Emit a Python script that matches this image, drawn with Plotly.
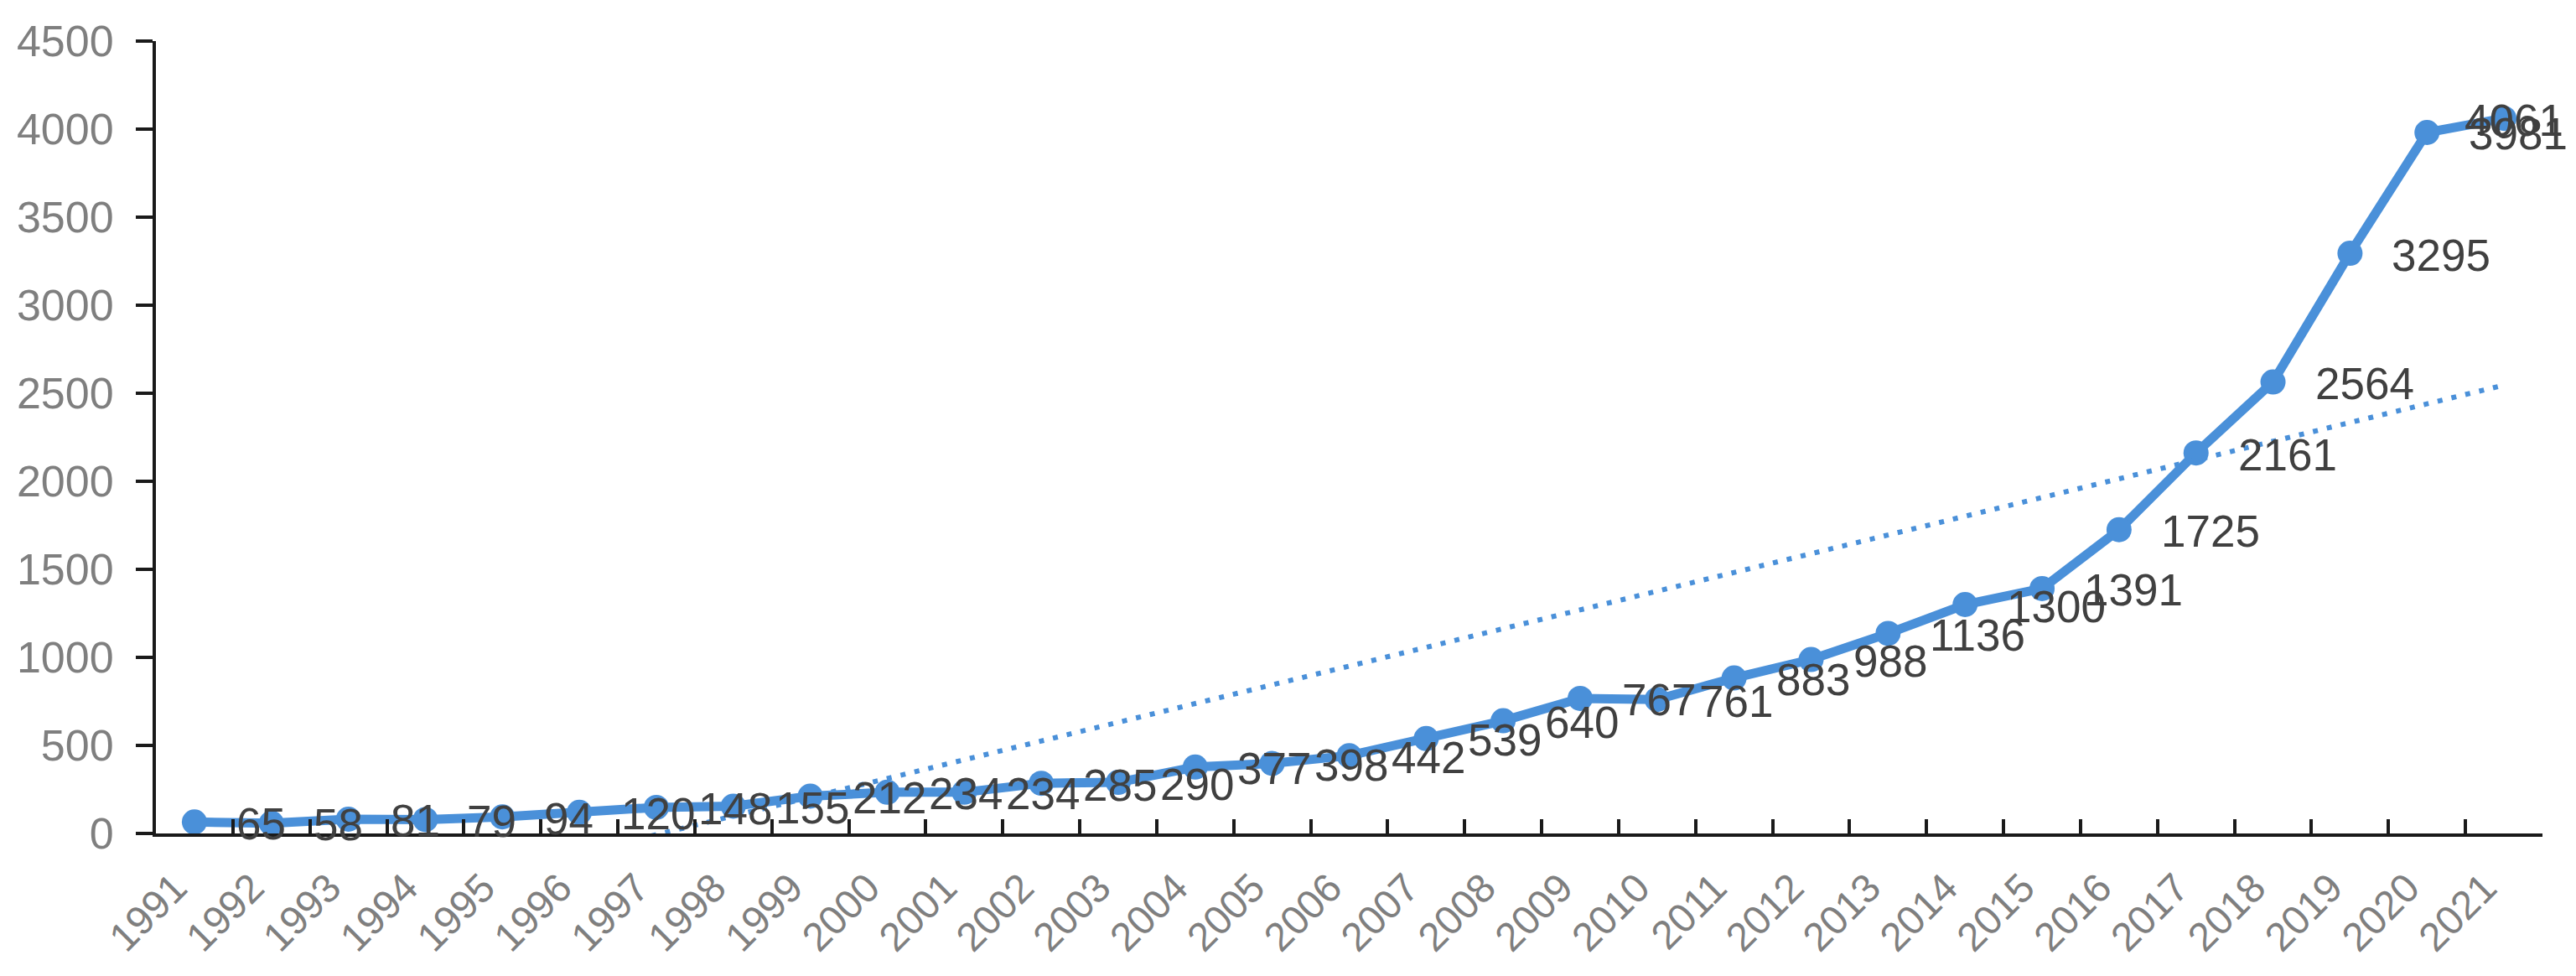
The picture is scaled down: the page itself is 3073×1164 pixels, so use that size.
import numpy as np
import plotly.graph_objects as go

years = ["1991", "1992", "1993", "1994", "1995", "1996", "1997", "1998", "1999", "2000",
         "2001", "2002", "2003", "2004", "2005", "2006", "2007", "2008", "2009", "2010",
         "2011", "2012", "2013", "2014", "2015", "2016", "2017", "2018", "2019", "2020", "2021"]
values = [65, 58, 81, 79, 94, 120, 148, 155, 212, 234,
          234, 285, 290, 377, 398, 442, 539, 640, 767, 761,
          883, 988, 1136, 1300, 1391, 1725, 2161, 2564, 3295, 3981, 4061]
y_ticks = [0, 500, 1000, 1500, 2000, 2500, 3000, 3500, 4000, 4500]

BLUE = "#4A90D9"
FONT = "Liberation Sans, Arial, Helvetica, sans-serif"

n = len(values)
idx = np.arange(n)
# linear trendline (as in spreadsheet tools)
slope, intercept = np.polyfit(idx, np.array(values, dtype=float), 1)
trend = (slope * idx + intercept).tolist()

fig = go.Figure()
# trendline drawn on the numeric overlay axis (same range as the category axis)
fig.add_trace(go.Scatter(
    x=idx.tolist(), y=trend, mode="lines", xaxis="x2", yaxis="y",
    line=dict(color=BLUE, width=6, dash="6px,11px"),
    hoverinfo="skip", showlegend=False,
))
fig.add_trace(go.Scatter(
    x=years, y=values, mode="lines+markers",
    line=dict(color=BLUE, width=11),
    marker=dict(color=BLUE, size=30),
    showlegend=False,
))

annotations = []
for i, v in enumerate(values):
    last = i == n - 1
    annotations.append(dict(
        x=i, y=v, xref="x", yref="y", text=str(v), showarrow=False,
        xanchor="center" if last else "left",
        xshift=12 if last else 48, yshift=-2,
        font=dict(family=FONT, size=53, color="#404040"),
    ))

# label offset so the rotated label's upper end sits at the category centre
label_shift = -0.25

fig.update_layout(
    width=3073, height=1164,
    margin=dict(l=174, r=48, t=39, b=178),
    paper_bgcolor="white", plot_bgcolor="white",
    font=dict(family=FONT),
    annotations=annotations,
    xaxis=dict(
        type="category", categoryorder="array", categoryarray=years,
        range=[-0.5, n - 0.5],
        tickson="boundaries", ticks="inside", ticklen=17, tickwidth=4, tickcolor="#1a1a1a",
        showline=True, linecolor="#1a1a1a", linewidth=4,
        showgrid=False, zeroline=False, showticklabels=False,
    ),
    xaxis2=dict(
        overlaying="x", anchor="y", side="bottom", type="linear",
        range=[-0.5, n - 0.5],
        tickmode="array", tickvals=(idx + label_shift).tolist(), ticktext=years,
        ticks="", showline=False, showgrid=False, zeroline=False,
        tickangle=-45, ticklabelstandoff=26,
        tickfont=dict(family=FONT, size=48, color="#7f7f7f"),
    ),
    yaxis=dict(
        range=[0, 4500], tickvals=y_ticks,
        ticks="outside", ticklen=20, tickwidth=4, tickcolor="#1a1a1a",
        showline=True, linecolor="#1a1a1a", linewidth=4,
        showgrid=False, zeroline=False,
        ticklabelstandoff=16,
        tickfont=dict(family=FONT, size=52, color="#7f7f7f"),
    ),
)

fig.write_html("out.html")
